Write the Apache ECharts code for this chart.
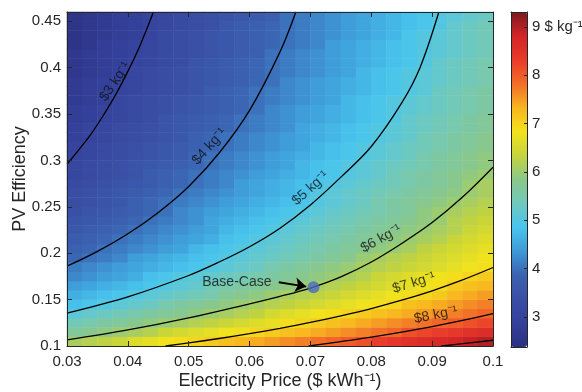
<!DOCTYPE html>
<html>
<head>
<meta charset="utf-8">
<script src="https://cdn.jsdelivr.net/npm/echarts@6/dist/echarts.min.js"></script>
<style>
  html, body { margin: 0; background: #fff; }
  #main { width: 582px; height: 392px; }
</style>
</head>
<body>
<div id="main"></div>
<script>
// cell centres of the cost map (electricity price, PV efficiency)
const priceCells = [0.03125, 0.03375, 0.03625, 0.03875, 0.04125, 0.04375, 0.04625,
    0.04875, 0.05125, 0.05375, 0.05625, 0.05875, 0.06125, 0.06375, 0.06625, 0.06875,
    0.07125, 0.07375, 0.07625, 0.07875, 0.08125, 0.08375, 0.08625, 0.08875, 0.09125,
    0.09375, 0.09625, 0.09875];
const effCells = [0.105, 0.115, 0.125, 0.135, 0.145, 0.155, 0.165, 0.175, 0.185,
    0.195, 0.205, 0.215, 0.225, 0.235, 0.245, 0.255, 0.265, 0.275, 0.285, 0.295,
    0.305, 0.315, 0.325, 0.335, 0.345, 0.355, 0.365, 0.375, 0.385, 0.395, 0.405,
    0.415, 0.425, 0.435, 0.445, 0.455];

// hydrogen cost ($/kg), one row per efficiency cell, bottom to top
const costGrid = [
    [6.1, 6.2, 6.3, 6.4, 6.6, 6.7, 6.8, 6.9, 7.0, 7.1, 7.2, 7.3, 7.4, 7.5, 7.6, 7.7, 7.8, 7.9, 8.0, 8.1, 8.3, 8.4, 8.5, 8.6, 8.7, 8.8, 8.9, 9.0],
    [5.7, 5.8, 5.9, 6.0, 6.1, 6.2, 6.4, 6.5, 6.6, 6.7, 6.8, 6.9, 7.0, 7.1, 7.2, 7.3, 7.4, 7.5, 7.6, 7.7, 7.8, 7.9, 8.1, 8.2, 8.3, 8.4, 8.5, 8.6],
    [5.4, 5.5, 5.6, 5.7, 5.8, 5.9, 6.0, 6.1, 6.2, 6.3, 6.4, 6.5, 6.6, 6.7, 6.9, 7.0, 7.1, 7.2, 7.3, 7.4, 7.5, 7.6, 7.7, 7.8, 7.9, 8.0, 8.1, 8.2],
    [5.1, 5.2, 5.3, 5.4, 5.5, 5.6, 5.7, 5.8, 5.9, 6.0, 6.1, 6.2, 6.3, 6.5, 6.6, 6.7, 6.8, 6.9, 7.0, 7.1, 7.2, 7.3, 7.4, 7.5, 7.6, 7.7, 7.8, 7.9],
    [4.8, 4.9, 5.0, 5.1, 5.2, 5.3, 5.5, 5.6, 5.7, 5.8, 5.9, 6.0, 6.1, 6.2, 6.3, 6.4, 6.5, 6.6, 6.7, 6.8, 6.9, 7.0, 7.2, 7.3, 7.4, 7.5, 7.6, 7.7],
    [4.6, 4.7, 4.8, 4.9, 5.0, 5.1, 5.2, 5.3, 5.4, 5.5, 5.7, 5.8, 5.9, 6.0, 6.1, 6.2, 6.3, 6.4, 6.5, 6.6, 6.7, 6.8, 6.9, 7.0, 7.1, 7.3, 7.4, 7.5],
    [4.4, 4.5, 4.6, 4.7, 4.8, 4.9, 5.0, 5.1, 5.2, 5.4, 5.5, 5.6, 5.7, 5.8, 5.9, 6.0, 6.1, 6.2, 6.3, 6.4, 6.5, 6.6, 6.7, 6.8, 6.9, 7.1, 7.2, 7.3],
    [4.2, 4.3, 4.4, 4.5, 4.6, 4.8, 4.9, 5.0, 5.1, 5.2, 5.3, 5.4, 5.5, 5.6, 5.7, 5.8, 5.9, 6.0, 6.1, 6.2, 6.4, 6.5, 6.6, 6.7, 6.8, 6.9, 7.0, 7.1],
    [4.1, 4.2, 4.3, 4.4, 4.5, 4.6, 4.7, 4.8, 4.9, 5.0, 5.1, 5.2, 5.3, 5.5, 5.6, 5.7, 5.8, 5.9, 6.0, 6.1, 6.2, 6.3, 6.4, 6.5, 6.6, 6.7, 6.8, 6.9],
    [3.9, 4.0, 4.1, 4.2, 4.4, 4.5, 4.6, 4.7, 4.8, 4.9, 5.0, 5.1, 5.2, 5.3, 5.4, 5.5, 5.6, 5.7, 5.8, 6.0, 6.1, 6.2, 6.3, 6.4, 6.5, 6.6, 6.7, 6.8],
    [3.8, 3.9, 4.0, 4.1, 4.2, 4.3, 4.4, 4.5, 4.7, 4.8, 4.9, 5.0, 5.1, 5.2, 5.3, 5.4, 5.5, 5.6, 5.7, 5.8, 5.9, 6.0, 6.1, 6.3, 6.4, 6.5, 6.6, 6.7],
    [3.7, 3.8, 3.9, 4.0, 4.1, 4.2, 4.3, 4.4, 4.5, 4.6, 4.8, 4.9, 5.0, 5.1, 5.2, 5.3, 5.4, 5.5, 5.6, 5.7, 5.8, 5.9, 6.0, 6.1, 6.2, 6.4, 6.5, 6.6],
    [3.6, 3.7, 3.8, 3.9, 4.0, 4.1, 4.2, 4.3, 4.4, 4.5, 4.7, 4.8, 4.9, 5.0, 5.1, 5.2, 5.3, 5.4, 5.5, 5.6, 5.7, 5.8, 5.9, 6.0, 6.1, 6.2, 6.4, 6.5],
    [3.5, 3.6, 3.7, 3.8, 3.9, 4.0, 4.1, 4.2, 4.3, 4.5, 4.6, 4.7, 4.8, 4.9, 5.0, 5.1, 5.2, 5.3, 5.4, 5.5, 5.6, 5.7, 5.8, 5.9, 6.0, 6.2, 6.3, 6.4],
    [3.4, 3.5, 3.6, 3.7, 3.8, 3.9, 4.0, 4.2, 4.3, 4.4, 4.5, 4.6, 4.7, 4.8, 4.9, 5.0, 5.1, 5.2, 5.3, 5.4, 5.5, 5.6, 5.7, 5.9, 6.0, 6.1, 6.2, 6.3],
    [3.3, 3.4, 3.5, 3.6, 3.8, 3.9, 4.0, 4.1, 4.2, 4.3, 4.4, 4.5, 4.6, 4.7, 4.8, 4.9, 5.0, 5.1, 5.2, 5.3, 5.5, 5.6, 5.7, 5.8, 5.9, 6.0, 6.1, 6.2],
    [3.3, 3.4, 3.5, 3.6, 3.7, 3.8, 3.9, 4.0, 4.1, 4.2, 4.3, 4.4, 4.5, 4.6, 4.7, 4.8, 5.0, 5.1, 5.2, 5.3, 5.4, 5.5, 5.6, 5.7, 5.8, 5.9, 6.0, 6.1],
    [3.2, 3.3, 3.4, 3.5, 3.6, 3.7, 3.8, 3.9, 4.0, 4.1, 4.2, 4.4, 4.5, 4.6, 4.7, 4.8, 4.9, 5.0, 5.1, 5.2, 5.3, 5.4, 5.5, 5.6, 5.7, 5.8, 6.0, 6.1],
    [3.1, 3.2, 3.3, 3.4, 3.5, 3.7, 3.8, 3.9, 4.0, 4.1, 4.2, 4.3, 4.4, 4.5, 4.6, 4.7, 4.8, 4.9, 5.0, 5.1, 5.2, 5.4, 5.5, 5.6, 5.7, 5.8, 5.9, 6.0],
    [3.1, 3.2, 3.3, 3.4, 3.5, 3.6, 3.7, 3.8, 3.9, 4.0, 4.1, 4.2, 4.3, 4.4, 4.5, 4.7, 4.8, 4.9, 5.0, 5.1, 5.2, 5.3, 5.4, 5.5, 5.6, 5.7, 5.8, 5.9],
    [3.0, 3.1, 3.2, 3.3, 3.4, 3.5, 3.6, 3.7, 3.9, 4.0, 4.1, 4.2, 4.3, 4.4, 4.5, 4.6, 4.7, 4.8, 4.9, 5.0, 5.1, 5.2, 5.3, 5.5, 5.6, 5.7, 5.8, 5.9],
    [3.0, 3.1, 3.2, 3.3, 3.4, 3.5, 3.6, 3.7, 3.8, 3.9, 4.0, 4.1, 4.2, 4.3, 4.4, 4.5, 4.7, 4.8, 4.9, 5.0, 5.1, 5.2, 5.3, 5.4, 5.5, 5.6, 5.7, 5.8],
    [2.9, 3.0, 3.1, 3.2, 3.3, 3.4, 3.5, 3.6, 3.8, 3.9, 4.0, 4.1, 4.2, 4.3, 4.4, 4.5, 4.6, 4.7, 4.8, 4.9, 5.0, 5.1, 5.2, 5.4, 5.5, 5.6, 5.7, 5.8],
    [2.9, 3.0, 3.1, 3.2, 3.3, 3.4, 3.5, 3.6, 3.7, 3.8, 3.9, 4.0, 4.1, 4.2, 4.3, 4.5, 4.6, 4.7, 4.8, 4.9, 5.0, 5.1, 5.2, 5.3, 5.4, 5.5, 5.6, 5.7],
    [2.8, 2.9, 3.0, 3.1, 3.2, 3.3, 3.5, 3.6, 3.7, 3.8, 3.9, 4.0, 4.1, 4.2, 4.3, 4.4, 4.5, 4.6, 4.7, 4.8, 4.9, 5.0, 5.2, 5.3, 5.4, 5.5, 5.6, 5.7],
    [2.8, 2.9, 3.0, 3.1, 3.2, 3.3, 3.4, 3.5, 3.6, 3.7, 3.8, 3.9, 4.0, 4.2, 4.3, 4.4, 4.5, 4.6, 4.7, 4.8, 4.9, 5.0, 5.1, 5.2, 5.3, 5.4, 5.5, 5.6],
    [2.7, 2.8, 2.9, 3.1, 3.2, 3.3, 3.4, 3.5, 3.6, 3.7, 3.8, 3.9, 4.0, 4.1, 4.2, 4.3, 4.4, 4.5, 4.7, 4.8, 4.9, 5.0, 5.1, 5.2, 5.3, 5.4, 5.5, 5.6],
    [2.7, 2.8, 2.9, 3.0, 3.1, 3.2, 3.3, 3.4, 3.5, 3.7, 3.8, 3.9, 4.0, 4.1, 4.2, 4.3, 4.4, 4.5, 4.6, 4.7, 4.8, 4.9, 5.0, 5.1, 5.3, 5.4, 5.5, 5.6],
    [2.7, 2.8, 2.9, 3.0, 3.1, 3.2, 3.3, 3.4, 3.5, 3.6, 3.7, 3.8, 3.9, 4.0, 4.2, 4.3, 4.4, 4.5, 4.6, 4.7, 4.8, 4.9, 5.0, 5.1, 5.2, 5.3, 5.4, 5.5],
    [2.6, 2.7, 2.8, 2.9, 3.1, 3.2, 3.3, 3.4, 3.5, 3.6, 3.7, 3.8, 3.9, 4.0, 4.1, 4.2, 4.3, 4.4, 4.5, 4.7, 4.8, 4.9, 5.0, 5.1, 5.2, 5.3, 5.4, 5.5],
    [2.6, 2.7, 2.8, 2.9, 3.0, 3.1, 3.2, 3.3, 3.5, 3.6, 3.7, 3.8, 3.9, 4.0, 4.1, 4.2, 4.3, 4.4, 4.5, 4.6, 4.7, 4.8, 4.9, 5.0, 5.2, 5.3, 5.4, 5.5],
    [2.6, 2.7, 2.8, 2.9, 3.0, 3.1, 3.2, 3.3, 3.4, 3.5, 3.6, 3.7, 3.8, 4.0, 4.1, 4.2, 4.3, 4.4, 4.5, 4.6, 4.7, 4.8, 4.9, 5.0, 5.1, 5.2, 5.3, 5.4],
    [2.5, 2.6, 2.8, 2.9, 3.0, 3.1, 3.2, 3.3, 3.4, 3.5, 3.6, 3.7, 3.8, 3.9, 4.0, 4.1, 4.2, 4.4, 4.5, 4.6, 4.7, 4.8, 4.9, 5.0, 5.1, 5.2, 5.3, 5.4],
    [2.5, 2.6, 2.7, 2.8, 2.9, 3.0, 3.2, 3.3, 3.4, 3.5, 3.6, 3.7, 3.8, 3.9, 4.0, 4.1, 4.2, 4.3, 4.4, 4.5, 4.6, 4.7, 4.9, 5.0, 5.1, 5.2, 5.3, 5.4],
    [2.5, 2.6, 2.7, 2.8, 2.9, 3.0, 3.1, 3.2, 3.3, 3.4, 3.6, 3.7, 3.8, 3.9, 4.0, 4.1, 4.2, 4.3, 4.4, 4.5, 4.6, 4.7, 4.8, 4.9, 5.0, 5.2, 5.3, 5.4],
    [2.5, 2.6, 2.7, 2.8, 2.9, 3.0, 3.1, 3.2, 3.3, 3.4, 3.5, 3.6, 3.7, 3.8, 4.0, 4.1, 4.2, 4.3, 4.4, 4.5, 4.6, 4.7, 4.8, 4.9, 5.0, 5.1, 5.2, 5.3]
];

// iso-cost lines, [price, efficiency]
const contour3 = [[0.030, 0.296], [0.032, 0.312], [0.034, 0.329], [0.036, 0.349],
    [0.038, 0.371], [0.040, 0.396], [0.042, 0.424], [0.0442, 0.46]];
const contour4 = [[0.030, 0.186], [0.035, 0.202], [0.040, 0.221], [0.045, 0.244],
    [0.050, 0.272], [0.055, 0.308], [0.060, 0.354], [0.065, 0.417], [0.0676, 0.46]];
const contour5 = [[0.030, 0.1355], [0.040, 0.153], [0.050, 0.176], [0.055, 0.1905],
    [0.060, 0.207], [0.065, 0.227], [0.070, 0.252], [0.075, 0.282], [0.080, 0.315],
    [0.085, 0.362], [0.088, 0.400], [0.0911, 0.46]];
const contour6 = [[0.030, 0.1066], [0.040, 0.1173], [0.050, 0.1303], [0.060, 0.1455],
    [0.065, 0.1535], [0.070, 0.1625], [0.075, 0.1745], [0.080, 0.1905], [0.085, 0.2105],
    [0.090, 0.233], [0.095, 0.2605], [0.100, 0.2927]];
const contour7 = [[0.0462, 0.100], [0.050, 0.1033], [0.055, 0.1081], [0.060, 0.1133],
    [0.065, 0.1191], [0.070, 0.1254], [0.075, 0.1325], [0.080, 0.1404], [0.085, 0.1494],
    [0.090, 0.1595], [0.095, 0.1712], [0.100, 0.1846]];
const contour8 = [[0.0697, 0.100], [0.075, 0.1048], [0.080, 0.1096], [0.085, 0.1150],
    [0.090, 0.1209], [0.095, 0.1275], [0.100, 0.1348]];
const contour9 = [[0.0915, 0.100], [0.095, 0.1025], [0.100, 0.1062]];

const contourLabelText = ['$3 kg⁻¹', '$4 kg⁻¹', '$5 kg⁻¹', '$6 kg⁻¹', '$7 kg⁻¹', '$8 kg⁻¹'];
const contourLabelX = [0.0379, 0.0534, 0.0700, 0.0816, 0.0870, 0.0906];
const contourLabelY = [0.385, 0.315, 0.270, 0.2156, 0.168, 0.1335];
const contourLabelAngle = [56, 48, 42, 29, 17, 11];

const baseCase = [0.0705, 0.1634];
const arrowFrom = [0.0648, 0.1688];
const arrowTo = [0.0693, 0.1640];

// colour scale (jet-like), spread evenly from min to max
const costMin = 2.38;
const costMax = 9.31;
const colorScale = ['#2b3181', '#34409a', '#3a4fa5', '#3b62b1', '#3e99d6', '#48c5ee',
    '#70c9bd', '#8ac889', '#c4d43c', '#f3e31b', '#f7b520', '#f26d28', '#e93a2a',
    '#d22527', '#7a1a1e'];

const FONT = '"Liberation Sans", Arial, Helvetica, sans-serif';
const INK = '#262626';

const heatData = [];
costGrid.forEach((row, i) => row.forEach((v, j) => heatData.push([j, i, v])));

// same box for the heat cells and for the value axes on top of them
const plotBox = { left: 67, top: 12, width: 426, height: 334, containLabel: false, outerBoundsMode: 'none' };

const frameAxis = {
    axisLine: { show: true, onZero: false, lineStyle: { color: INK, width: 1 } },
    axisTick: { show: true, inside: true, length: 5, lineStyle: { color: INK } },
    splitLine: { show: false },
    z: 10
};
const bareAxis = {
    axisLine: { show: true, onZero: false, lineStyle: { color: INK, width: 1 } },
    axisTick: { show: false },
    axisLabel: { show: false },
    splitLine: { show: false },
    z: 10
};
const tickLabel = { fontFamily: FONT, fontSize: 15, color: INK };

const contourSeries = [contour3, contour4, contour5, contour6, contour7, contour8, contour9]
    .map(pts => ({
        type: 'line',
        xAxisIndex: 1,
        yAxisIndex: 1,
        data: pts,
        symbol: 'none',
        smooth: 0.35,
        silent: true,
        lineStyle: { color: '#000', width: 1.3 },
        z: 5
    }));

const labelItems = contourLabelText.map((t, i) => ({
    value: [contourLabelX[i], contourLabelY[i]],
    label: { formatter: t, rotate: contourLabelAngle[i] }
}));

const myChart = echarts.init(document.getElementById('main'));

const option = {
    animation: false,
    backgroundColor: '#fff',
    grid: [
        Object.assign({}, plotBox),
        Object.assign({}, plotBox),
        { left: 511, top: 12, width: 16, height: 335, containLabel: false, outerBoundsMode: 'none' }
    ],
    xAxis: [
        { type: 'category', gridIndex: 0, data: priceCells, show: false },
        Object.assign({}, frameAxis, {
            type: 'value', gridIndex: 1, position: 'bottom',
            min: 0.03, max: 0.1, interval: 0.01,
            axisLabel: Object.assign({ margin: 8 }, tickLabel),
            name: 'Electricity Price ($ kWh⁻¹)',
            nameLocation: 'middle',
            nameGap: 26,
            nameMoveOverlap: false,
            nameTextStyle: { fontFamily: FONT, fontSize: 18, color: INK }
        }),
        Object.assign({}, frameAxis, {
            type: 'value', gridIndex: 1, position: 'top',
            min: 0.03, max: 0.1, interval: 0.01,
            axisLabel: { show: false }
        }),
        Object.assign({}, bareAxis, { type: 'value', gridIndex: 2, position: 'bottom', min: 0, max: 1 }),
        Object.assign({}, bareAxis, { type: 'value', gridIndex: 2, position: 'top', min: 0, max: 1 })
    ],
    yAxis: [
        { type: 'category', gridIndex: 0, data: effCells, show: false },
        Object.assign({}, frameAxis, {
            type: 'value', gridIndex: 1, position: 'left',
            min: 0.1, max: 0.46, interval: 0.05,
            axisLabel: Object.assign({ margin: 6, showMaxLabel: false }, tickLabel),
            name: 'PV Efficiency',
            nameLocation: 'middle',
            nameGap: 38,
            nameMoveOverlap: false,
            nameTextStyle: { fontFamily: FONT, fontSize: 18, color: INK }
        }),
        Object.assign({}, frameAxis, {
            type: 'value', gridIndex: 1, position: 'right',
            min: 0.1, max: 0.46, interval: 0.05,
            axisLabel: { show: false }
        }),
        Object.assign({}, frameAxis, {
            type: 'value', gridIndex: 2, position: 'right',
            min: costMin, max: costMax, splitNumber: 7,
            axisTick: { show: true, inside: true, length: 3, lineStyle: { color: INK } },
            axisLabel: Object.assign({
                margin: 5,
                showMinLabel: false,
                showMaxLabel: false,
                formatter: v => (v === 9 ? '9 $ kg⁻¹' : String(v))
            }, tickLabel)
        }),
        Object.assign({}, bareAxis, { type: 'value', gridIndex: 2, position: 'left', min: costMin, max: costMax })
    ],
    visualMap: {
        type: 'continuous',
        seriesIndex: 0,
        min: costMin,
        max: costMax,
        calculable: false,
        orient: 'vertical',
        left: 511,
        top: 12,
        itemWidth: 16,
        itemHeight: 335,
        padding: 0,
        inRange: { color: colorScale }
    },
    series: [
        {
            type: 'heatmap',
            xAxisIndex: 0,
            yAxisIndex: 0,
            data: heatData,
            silent: true,
            progressive: 0
        },
        ...contourSeries,
        {
            type: 'scatter',
            xAxisIndex: 1,
            yAxisIndex: 1,
            data: labelItems,
            symbolSize: 0.1,
            itemStyle: { color: 'transparent' },
            silent: true,
            label: {
                show: true,
                position: 'inside',
                fontFamily: FONT,
                fontSize: 14,
                color: '#111'
            },
            z: 6
        },
        {
            type: 'scatter',
            xAxisIndex: 1,
            yAxisIndex: 1,
            data: [baseCase],
            symbolSize: 12,
            itemStyle: { color: '#4a6bc1' },
            silent: true,
            label: {
                show: true,
                formatter: 'Base-Case',
                position: 'left',
                distance: 36,
                offset: [0, -5],
                fontFamily: FONT,
                fontSize: 14,
                color: '#111'
            },
            markLine: {
                silent: true,
                symbol: ['none', 'arrow'],
                symbolSize: 11,
                label: { show: false },
                lineStyle: { color: '#000', width: 2, type: 'solid' },
                data: [[{ coord: arrowFrom }, { coord: arrowTo }]]
            },
            z: 7
        }
    ]
};

myChart.setOption(option);
</script>
</body>
</html>
